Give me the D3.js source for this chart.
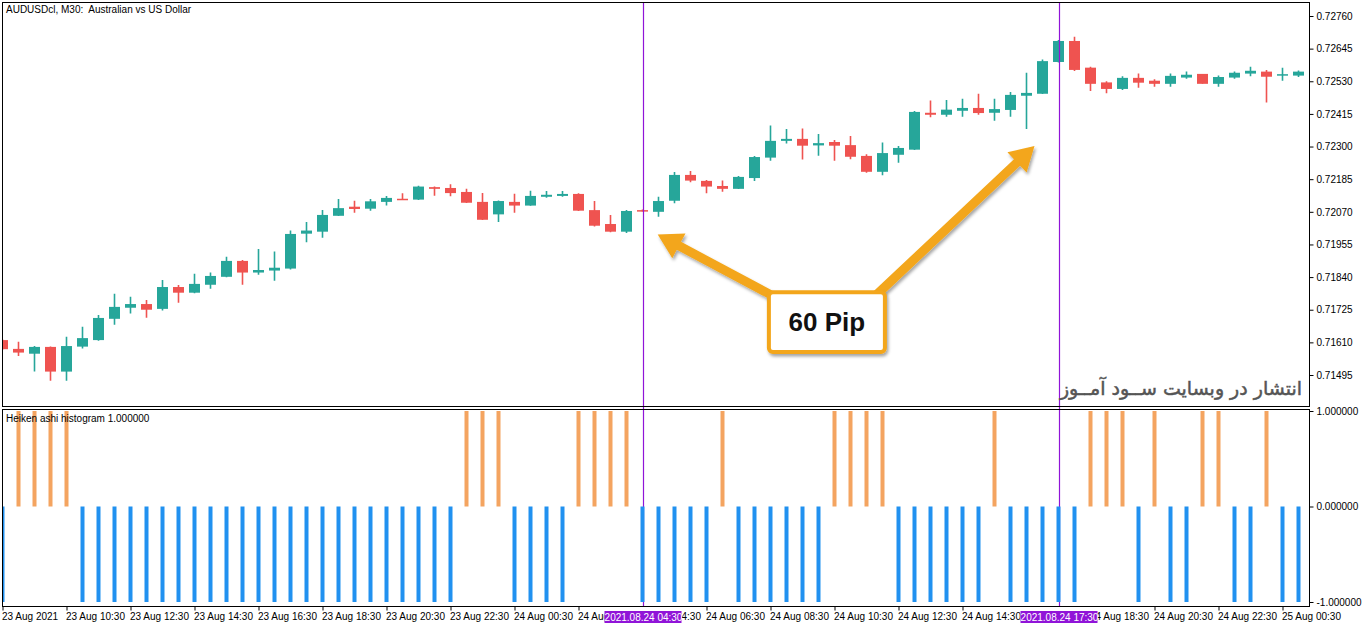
<!DOCTYPE html>
<html>
<head>
<meta charset="utf-8">
<script src="https://cdn.jsdelivr.net/npm/d3@7"></script>
<style>
  body { margin: 0; background: #fff; }
  svg { display: block; font-family: "Liberation Sans", Arial, sans-serif; }
</style>
</head>
<body>
<svg id="chart" width="1362" height="628"></svg>
<script>
// AUDUSD M30 candles (bar 0 = 23 Aug 08:30)
const opens = [
  0.71618, 0.71587, 0.71570, 0.71594, 0.71507, 0.71595, 0.71618, 0.71693, 0.71732, 0.71745,
  0.71728, 0.71805, 0.71785, 0.71813, 0.71841, 0.71897, 0.71856, 0.71863, 0.71870, 0.71993,
  0.72000, 0.72056, 0.72088, 0.72081, 0.72105, 0.72116, 0.72113, 0.72157, 0.72154, 0.72140,
  0.72105, 0.72061, 0.72105, 0.72092, 0.72123, 0.72126, 0.72133, 0.72076, 0.72027, 0.72000,
  0.72076, 0.72070, 0.72109, 0.72200, 0.72179, 0.72161, 0.72151, 0.72189, 0.72261, 0.72320,
  0.72327, 0.72304, 0.72316, 0.72305, 0.72267, 0.72211, 0.72271, 0.72289, 0.72419, 0.72412,
  0.72426, 0.72436, 0.72419, 0.72429, 0.72479, 0.72486, 0.72598, 0.72672, 0.72578, 0.72526,
  0.72503, 0.72542, 0.72532, 0.72521, 0.72543, 0.72556, 0.72521, 0.72543, 0.72557, 0.72564,
  0.72551, 0.72550
];
const highs = [
  0.71620, 0.71612, 0.71597, 0.71595, 0.71630, 0.71665, 0.71706, 0.71781, 0.71771, 0.71759,
  0.71830, 0.71812, 0.71852, 0.71856, 0.71912, 0.71900, 0.71939, 0.71930, 0.72004, 0.72034,
  0.72076, 0.72115, 0.72109, 0.72115, 0.72126, 0.72135, 0.72162, 0.72159, 0.72167, 0.72151,
  0.72136, 0.72110, 0.72134, 0.72144, 0.72143, 0.72143, 0.72135, 0.72108, 0.72059, 0.72076,
  0.72078, 0.72123, 0.72210, 0.72214, 0.72182, 0.72180, 0.72196, 0.72267, 0.72374, 0.72362,
  0.72364, 0.72344, 0.72323, 0.72337, 0.72273, 0.72314, 0.72302, 0.72425, 0.72462, 0.72464,
  0.72468, 0.72486, 0.72468, 0.72492, 0.72560, 0.72607, 0.72675, 0.72687, 0.72581, 0.72530,
  0.72548, 0.72557, 0.72537, 0.72557, 0.72564, 0.72556, 0.72550, 0.72564, 0.72581, 0.72570,
  0.72578, 0.72568
];
const lows = [
  0.71584, 0.71562, 0.71507, 0.71475, 0.71475, 0.71588, 0.71616, 0.71672, 0.71712, 0.71697,
  0.71722, 0.71750, 0.71783, 0.71799, 0.71839, 0.71813, 0.71848, 0.71827, 0.71867, 0.71963,
  0.71979, 0.72055, 0.72067, 0.72074, 0.72092, 0.72113, 0.72112, 0.72127, 0.72125, 0.72101,
  0.72041, 0.72034, 0.72067, 0.72091, 0.72120, 0.72123, 0.72073, 0.72018, 0.71998, 0.71995,
  0.72071, 0.72053, 0.72100, 0.72174, 0.72135, 0.72141, 0.72150, 0.72179, 0.72250, 0.72311,
  0.72254, 0.72268, 0.72250, 0.72255, 0.72208, 0.72199, 0.72243, 0.72288, 0.72403, 0.72405,
  0.72405, 0.72412, 0.72391, 0.72405, 0.72362, 0.72485, 0.72596, 0.72566, 0.72496, 0.72488,
  0.72499, 0.72507, 0.72511, 0.72511, 0.72539, 0.72521, 0.72511, 0.72539, 0.72548, 0.72455,
  0.72532, 0.72545
];
const closes = [
  0.71586, 0.71574, 0.71594, 0.71507, 0.71597, 0.71625, 0.71696, 0.71735, 0.71745, 0.71725,
  0.71805, 0.71785, 0.71816, 0.71844, 0.71897, 0.71856, 0.71865, 0.71873, 0.71992, 0.72004,
  0.72059, 0.72083, 0.72080, 0.72107, 0.72119, 0.72113, 0.72159, 0.72151, 0.72136, 0.72102,
  0.72042, 0.72108, 0.72092, 0.72126, 0.72130, 0.72133, 0.72074, 0.72021, 0.72000, 0.72073,
  0.72073, 0.72108, 0.72200, 0.72180, 0.72159, 0.72151, 0.72193, 0.72263, 0.72320, 0.72327,
  0.72303, 0.72312, 0.72303, 0.72264, 0.72211, 0.72277, 0.72295, 0.72422, 0.72412, 0.72430,
  0.72436, 0.72418, 0.72432, 0.72482, 0.72489, 0.72601, 0.72672, 0.72570, 0.72521, 0.72503,
  0.72542, 0.72525, 0.72521, 0.72549, 0.72553, 0.72521, 0.72545, 0.72560, 0.72567, 0.72546,
  0.72555, 0.72564
];

// Heiken ashi histogram (+1 orange, -1 blue)
const histogram = [
  -1, 1, 1, 1, 1, -1, -1, -1, -1, -1,
  -1, -1, -1, -1, -1, -1, -1, -1, -1, -1,
  -1, -1, -1, -1, -1, -1, -1, -1, -1, 1,
  1, 1, -1, -1, -1, -1, 1, 1, 1, 1,
  -1, -1, -1, -1, -1, 1, -1, -1, -1, -1,
  -1, -1, 1, 1, 1, 1, -1, -1, -1, -1,
  -1, -1, 1, -1, -1, -1, -1, -1, 1, 1,
  1, -1, 1, -1, -1, 1, 1, -1, -1, 1,
  -1, -1
];

const priceTicks = [0.72760, 0.72645, 0.72530, 0.72415, 0.72300, 0.72185, 0.72070, 0.71955, 0.71840, 0.71725, 0.71610, 0.71495];
const histTicks = [1, 0, -1];
// 24 Aug 16:30 sits fully under the 17:30 marker box, as in the screenshot
const timeTickBars = [0, 4, 8, 12, 16, 20, 24, 28, 32, 36, 40, 44, 48, 52, 56, 60, 68, 72, 76, 80];
const timeTickLabels = [
  "23 Aug 2021", "23 Aug 10:30", "23 Aug 12:30", "23 Aug 14:30", "23 Aug 16:30", "23 Aug 18:30",
  "23 Aug 20:30", "23 Aug 22:30", "24 Aug 00:30", "24 Aug 02:30", "24 Aug 04:30", "24 Aug 06:30",
  "24 Aug 08:30", "24 Aug 10:30", "24 Aug 12:30", "24 Aug 14:30", "24 Aug 18:30",
  "24 Aug 20:30", "24 Aug 22:30", "25 Aug 00:30"
];
const markerBars = [40, 66];
const markerLabels = ["2021.08.24 04:30", "2021.08.24 17:30"];

// layout
const mainPane = { left: 2.5, right: 1309.5, top: 2.5, bottom: 406.5 };
const subPane = { left: 2.5, right: 1309.5, top: 409.5, bottom: 606.5 };
const colors = { up: "#26a69a", down: "#ef5350", histUp: "#f4a460", histDown: "#2191f0", marker: "#9014d8", callout: "#f3a61a" };

const svg = d3.select("#chart");
svg.append("rect").attr("width", 1362).attr("height", 628).attr("fill", "#fff");

const x = d3.scaleLinear().domain([0, 81]).range([2.5, 1298.5]);
const y = d3.scaleLinear().domain([0.71495, 0.72760]).range([375, 16]);
const yh = d3.scaleLinear().domain([-1, 1]).range([602, 411]);

const defs = svg.append("defs");
defs.append("clipPath").attr("id", "clipMain").append("rect")
  .attr("x", mainPane.left).attr("y", mainPane.top)
  .attr("width", mainPane.right - mainPane.left).attr("height", mainPane.bottom - mainPane.top);
defs.append("clipPath").attr("id", "clipSub").append("rect")
  .attr("x", subPane.left).attr("y", subPane.top)
  .attr("width", subPane.right - subPane.left).attr("height", subPane.bottom - subPane.top);
const shadow = defs.append("filter").attr("id", "shadow").attr("x", "-20%").attr("y", "-20%").attr("width", "150%").attr("height", "160%");
shadow.append("feDropShadow").attr("dx", 1.5).attr("dy", 2.5).attr("stdDeviation", 1.8).attr("flood-color", "#000").attr("flood-opacity", 0.35);

// time labels are cut where a marker box covers them
const boxHalf = 38.5;
defs.append("clipPath").attr("id", "clipTime").append("path")
  .attr("clip-rule", "evenodd")
  .attr("d", () => {
    let d = "M0,606H1362V628H0Z";
    markerBars.forEach(b => {
      const cx = Math.round(x(b));
      d += `M${cx - boxHalf},606H${cx + boxHalf}V628H${cx - boxHalf}Z`;
    });
    return d;
  });

const bars = d3.range(opens.length).map(i => ({
  i, open: opens[i], high: highs[i], low: lows[i], close: closes[i], hist: histogram[i]
}));

// candles
const main = svg.append("g").attr("clip-path", "url(#clipMain)");
const candle = main.selectAll("g.candle").data(bars).enter().append("g").attr("class", "candle");
candle.append("line")
  .attr("x1", d => x(d.i)).attr("x2", d => x(d.i))
  .attr("y1", d => y(d.high)).attr("y2", d => y(d.low))
  .attr("stroke", d => d.close >= d.open ? colors.up : colors.down)
  .attr("stroke-width", 1.6);
candle.append("rect")
  .attr("x", d => x(d.i) - 5.5)
  .attr("width", 11)
  .attr("y", d => y(Math.max(d.open, d.close)))
  .attr("height", d => Math.max(1.5, Math.abs(y(d.open) - y(d.close))))
  .attr("fill", d => d.close >= d.open ? colors.up : colors.down);

// vertical markers
markerBars.forEach(b => {
  svg.append("line")
    .attr("x1", Math.round(x(b)) + 0.5).attr("x2", Math.round(x(b)) + 0.5)
    .attr("y1", mainPane.top).attr("y2", subPane.bottom)
    .attr("stroke", colors.marker).attr("stroke-width", 1.2);
});

// histogram
const sub = svg.append("g").attr("clip-path", "url(#clipSub)");
sub.selectAll("rect").data(bars).enter().append("rect")
  .attr("x", d => x(d.i) - 2)
  .attr("width", 4)
  .attr("y", d => Math.min(yh(0), yh(d.hist)))
  .attr("height", d => Math.abs(yh(d.hist) - yh(0)))
  .attr("fill", d => d.hist > 0 ? colors.histUp : colors.histDown);

// pane frames
[mainPane, subPane].forEach(p => {
  svg.append("rect")
    .attr("x", p.left).attr("y", p.top)
    .attr("width", p.right - p.left).attr("height", p.bottom - p.top)
    .attr("fill", "none").attr("stroke", "#000").attr("stroke-width", 1);
});

// axes
function styleAxis(g) {
  g.select(".domain").remove();
  g.selectAll(".tick line").attr("stroke", "#000");
  g.selectAll(".tick text").attr("fill", "#000").attr("font-size", "10px")
    .attr("font-family", "'Liberation Sans', Arial, sans-serif");
}
svg.append("g")
  .attr("transform", `translate(${mainPane.right},0)`)
  .call(d3.axisRight(y).tickValues(priceTicks).tickSize(4).tickPadding(3).tickFormat(d => d.toFixed(5)))
  .call(styleAxis);
svg.append("g")
  .attr("transform", `translate(${subPane.right},0)`)
  .call(d3.axisRight(yh).tickValues(histTicks).tickSize(4).tickPadding(3).tickFormat(d => d.toFixed(6)))
  .call(styleAxis);
const timeAxis = svg.append("g").attr("clip-path", "url(#clipTime)")
  .append("g")
  .attr("transform", `translate(0,${subPane.bottom})`)
  .call(d3.axisBottom(x).tickValues(timeTickBars).tickSize(4).tickPadding(2)
    .tickFormat((d, i) => timeTickLabels[i]))
  .call(styleAxis);
timeAxis.selectAll(".tick text").attr("text-anchor", "start").attr("dx", "-1");

// marker date boxes on the time axis
markerBars.forEach((b, k) => {
  const g = svg.append("g").attr("transform", `translate(${Math.round(x(b))},0)`);
  g.append("rect").attr("x", -boxHalf).attr("y", 611).attr("width", boxHalf * 2).attr("height", 12).attr("fill", colors.marker);
  g.append("text").attr("x", 0.5).attr("y", 621).attr("text-anchor", "middle")
    .attr("fill", "#fff").attr("font-size", "10px").text(markerLabels[k]);
});

// titles
svg.append("text").attr("x", 6).attr("y", 13).attr("font-size", "10px").attr("fill", "#000")
  .style("white-space", "pre")
  .text("AUDUSDcl, M30:  Australian vs US Dollar");
svg.append("text").attr("x", 6).attr("y", 422).attr("font-size", "10px").attr("fill", "#000")
  .text("Heiken ashi histogram 1.000000");

// watermark
svg.append("text").attr("x", 1302).attr("y", 395).attr("text-anchor", "end")
  .attr("font-family", "'DejaVu Sans', sans-serif").attr("font-size", "19px")
  .attr("fill", "#555").attr("stroke", "#555").attr("stroke-width", 0.5)
  .text("انتشار در وبسایت ســود آمــوز");

// callout: two arrows and the "60 Pip" box
function arrowPath(x1, y1, x2, y2, shaft, headLen, headW) {
  const dx = x2 - x1, dy = y2 - y1, len = Math.hypot(dx, dy);
  const ux = dx / len, uy = dy / len, nx = -uy, ny = ux;
  const bx = x2 - ux * headLen, by = y2 - uy * headLen;
  const pts = [
    [x1 + nx * shaft / 2, y1 + ny * shaft / 2],
    [bx + nx * shaft / 2, by + ny * shaft / 2],
    [bx + nx * headW / 2, by + ny * headW / 2],
    [x2, y2],
    [bx - nx * headW / 2, by - ny * headW / 2],
    [bx - nx * shaft / 2, by - ny * shaft / 2],
    [x1 - nx * shaft / 2, y1 - ny * shaft / 2]
  ];
  return "M" + pts.map(p => p.join(",")).join("L") + "Z";
}
const callout = svg.append("g");
const box = { x0: x(47.9), x1: x(55.15), y0: y(0.71787), y1: y(0.71576) };
callout.append("path")
  .attr("d", arrowPath(box.x0 + 12, box.y0 + 8, x(40.95), y(0.71990), 9, 24, 28))
  .attr("fill", colors.callout).attr("filter", "url(#shadow)");
callout.append("path")
  .attr("d", arrowPath(box.x1 - 12, box.y0 + 6, x(64.5), y(0.72302), 9, 24, 28))
  .attr("fill", colors.callout).attr("filter", "url(#shadow)");
callout.append("rect")
  .attr("x", box.x0).attr("y", box.y0)
  .attr("width", box.x1 - box.x0).attr("height", box.y1 - box.y0)
  .attr("rx", 4).attr("fill", "#fff")
  .attr("stroke", colors.callout).attr("stroke-width", 4)
  .attr("filter", "url(#shadow)");
callout.append("text")
  .attr("x", (box.x0 + box.x1) / 2).attr("y", (box.y0 + box.y1) / 2 + 9)
  .attr("text-anchor", "middle").attr("font-size", "26px").attr("font-weight", "bold")
  .attr("fill", "#111").text("60 Pip");
</script>
</body>
</html>
